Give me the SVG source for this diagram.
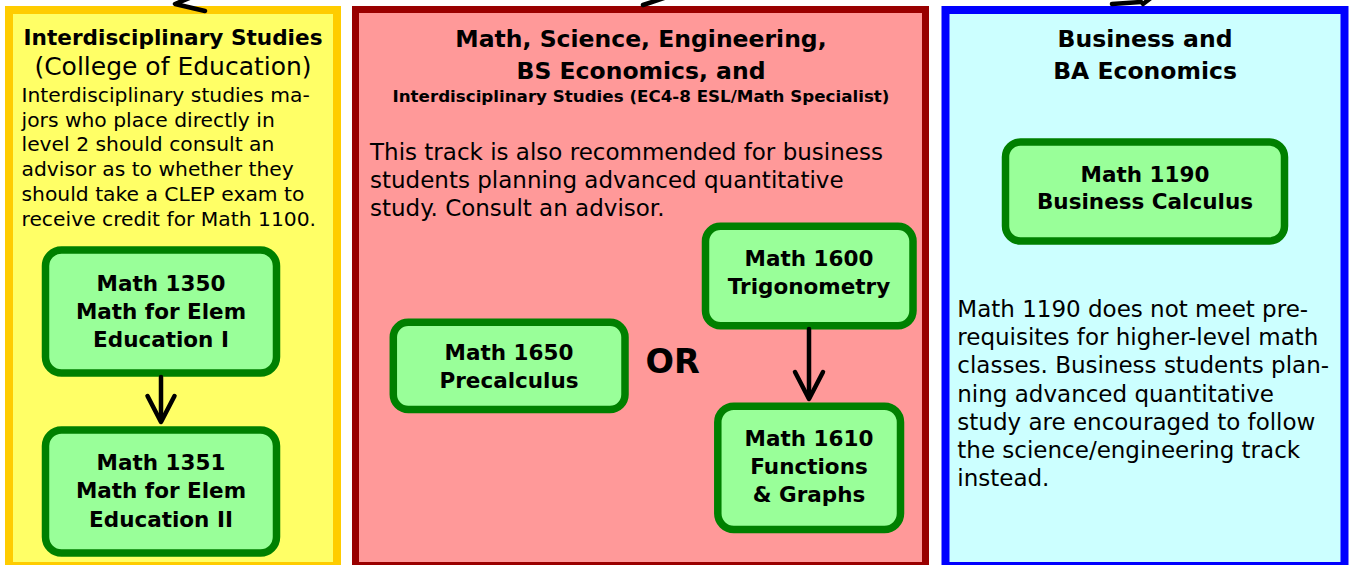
<svg xmlns="http://www.w3.org/2000/svg" width="1362" height="565" viewBox="0 0 1362 565">
  <style>
    text { font-family: "DejaVu Sans", "Liberation Sans", sans-serif; fill: #000; }
    .title { font-weight: bold; font-size: 23.5px; text-anchor: middle; }
    .body { font-size: 23px; }
    .node rect { fill: #99FF99; stroke: #008000; stroke-width: 7.5; }
    .node text { font-weight: bold; font-size: 21.5px; text-anchor: middle; }
    .conn { fill: none; stroke: #000; stroke-width: 4.5; stroke-linecap: round; stroke-linejoin: round; }
  </style>
  <rect width="1362" height="565" fill="#fff"/>

  <g id="panel-interdisciplinary">
    <rect x="9" y="10" width="328" height="556" fill="#FFFF66" stroke="#FFCC00" stroke-width="8"/>
    <text class="title" x="173" y="45" style="font-size:21.6px">Interdisciplinary Studies</text>
    <text x="173" y="75" style="font-size:25px" text-anchor="middle">(College of Education)</text>
    <g style="font-size:20.3px">
      <text x="21.5" y="101.7">Interdisciplinary studies ma-</text>
      <text x="21.5" y="126.5">jors who place directly in</text>
      <text x="21.5" y="151.3">level 2 should consult an</text>
      <text x="21.5" y="176.1">advisor as to whether they</text>
      <text x="21.5" y="200.9">should take a CLEP exam to</text>
      <text x="21.5" y="225.7">receive credit for Math 1100.</text>
    </g>
  </g>

  <g id="panel-science">
    <rect x="355.5" y="9.5" width="570" height="556" fill="#FF9999" stroke="#990000" stroke-width="7"/>
    <text class="title" x="641" y="47">Math, Science, Engineering,</text>
    <text class="title" x="641" y="79">BS Economics, and</text>
    <text class="title" x="641" y="101.5" style="font-size:16.7px">Interdisciplinary Studies (EC4-8 ESL/Math Specialist)</text>
    <text class="body" x="370" y="160">This track is also recommended for business</text>
    <text class="body" x="370" y="188">students planning advanced quantitative</text>
    <text class="body" x="370" y="216">study. Consult an advisor.</text>
    <text x="672.7" y="373.3" text-anchor="middle" style="font-weight:bold;font-size:33.5px">OR</text>
  </g>

  <g id="panel-business">
    <rect x="945.5" y="10" width="399" height="556" fill="#CCFFFF" stroke="#0000FF" stroke-width="8"/>
    <text class="title" x="1145" y="46.7">Business and</text>
    <text class="title" x="1145" y="79">BA Economics</text>
    <text class="body" x="957.3" y="316.7">Math 1190 does not meet pre-</text>
    <text class="body" x="957.3" y="345">requisites for higher-level math</text>
    <text class="body" x="957.3" y="373.3">classes. Business students plan-</text>
    <text class="body" x="957.3" y="401.7">ning advanced quantitative</text>
    <text class="body" x="957.3" y="430">study are encouraged to follow</text>
    <text class="body" x="957.3" y="458.3">the science/engineering track</text>
    <text class="body" x="957.3" y="486">instead.</text>
  </g>

  <g id="node-1350" class="node">
    <rect x="45.5" y="250" width="231" height="123" rx="16"/>
    <text x="161" y="290.7">Math 1350</text>
    <text x="161" y="319">Math for Elem</text>
    <text x="161" y="346.7">Education I</text>
  </g>
  <g id="node-1351" class="node">
    <rect x="45.5" y="430" width="231" height="123" rx="16"/>
    <text x="161" y="470">Math 1351</text>
    <text x="161" y="498.3">Math for Elem</text>
    <text x="161" y="526.7">Education II</text>
  </g>
  <g id="node-1650" class="node">
    <rect x="393.3" y="322.2" width="231.7" height="87.3" rx="15"/>
    <text x="509" y="360">Math 1650</text>
    <text x="509" y="388.3">Precalculus</text>
  </g>
  <g id="node-1600" class="node">
    <rect x="705.5" y="226.2" width="207.5" height="99.5" rx="15"/>
    <text x="809" y="265.7">Math 1600</text>
    <text x="809" y="294.3">Trigonometry</text>
  </g>
  <g id="node-1610" class="node">
    <rect x="717.8" y="406.2" width="182.7" height="123.3" rx="16"/>
    <text x="809" y="445.7">Math 1610</text>
    <text x="809" y="474">Functions</text>
    <text x="809" y="502.3">&amp; Graphs</text>
  </g>
  <g id="node-1190" class="node">
    <rect x="1005.5" y="142" width="279" height="99" rx="15"/>
    <text x="1145" y="181.7">Math 1190</text>
    <text x="1145" y="209.3">Business Calculus</text>
  </g>

  <g id="connectors">
    <line class="conn" x1="161" y1="377" x2="161" y2="421"/>
    <polyline class="conn" points="147.5,396 161,422 174.5,396"/>
    <line class="conn" x1="809" y1="329" x2="809" y2="398"/>
    <polyline class="conn" points="795,372 809,399 823,372"/>
    <polyline class="conn" points="199,-6 175,4 205,11"/>
    <line class="conn" x1="643" y1="5" x2="676" y2="-6"/>
    <polyline class="conn" points="1112,4 1141,2"/>
    <line class="conn" x1="1143" y1="4" x2="1156" y2="-6"/>
  </g>
</svg>
